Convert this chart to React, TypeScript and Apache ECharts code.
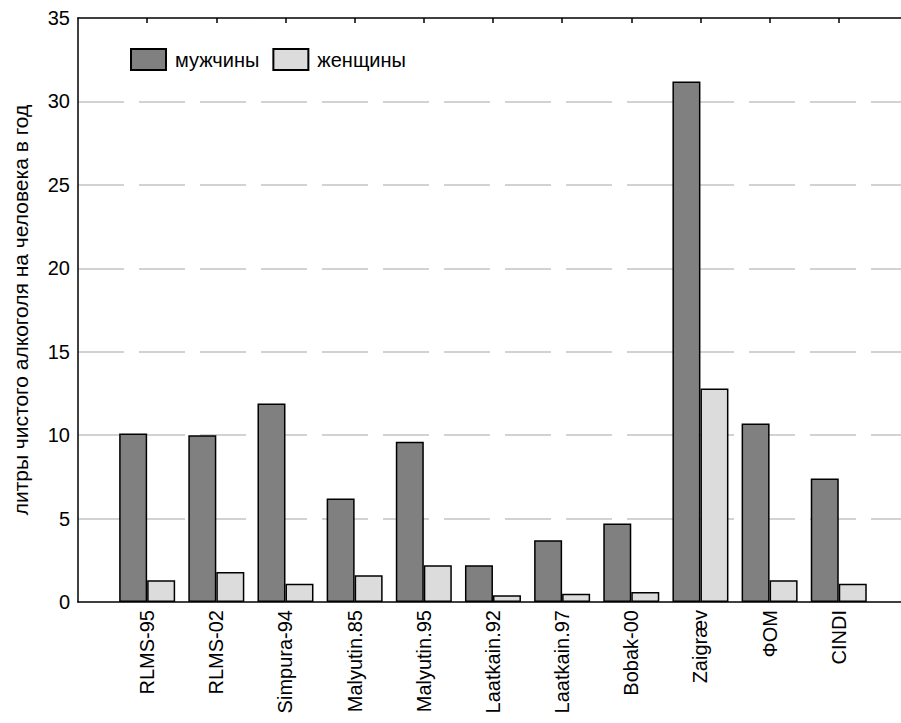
import React, { useEffect, useRef } from 'react';
import * as echarts from 'echarts';

// Annual pure-alcohol consumption per person, by survey
const categories = [
  'RLMS-95',
  'RLMS-02',
  'Simpura-94',
  'Malyutin.85',
  'Malyutin.95',
  'Laatkain.92',
  'Laatkain.97',
  'Bobak-00',
  'Zaigræv',
  'ФОМ',
  'CINDI',
];
const men = [10.1, 10.0, 11.9, 6.2, 9.6, 2.2, 3.7, 4.7, 31.2, 10.7, 7.4];
const women = [1.3, 1.8, 1.1, 1.6, 2.2, 0.4, 0.5, 0.6, 12.8, 1.3, 1.1];
const seriesNames = ['мужчины', 'женщины'];
const yAxisTitle = 'литры чистого алкоголя на человека в год';
const yMin = 0;
const yMax = 35;
const yStep = 5;

const FONT = '"Liberation Sans", Arial, Helvetica, sans-serif';

export default function App() {
  const ref = useRef<HTMLDivElement>(null);

  useEffect(() => {
    if (!ref.current) return;
    const chart = echarts.init(ref.current, undefined, { renderer: 'svg' });
    const positions = categories.map((_, i) => i + 1);

    chart.setOption({
      animation: false,
      backgroundColor: '#ffffff',
      textStyle: { fontFamily: FONT, color: '#000' },
      grid: { left: 78, right: 0, top: 18, bottom: 121, containLabel: false },
      legend: {
        left: 130,
        top: 48,
        padding: 0,
        itemWidth: 35,
        itemHeight: 21,
        itemGap: 13,
        icon: 'rect',
        data: seriesNames,
        textStyle: { fontFamily: FONT, fontSize: 20, color: '#000', padding: [0, 0, 0, 4] },
      },
      xAxis: [
        {
          type: 'value',
          position: 'bottom',
          min: 0,
          max: 11.9,
          axisLine: { show: true, lineStyle: { color: '#000', width: 1.5 } },
          axisTick: { show: false },
          splitLine: { show: false },
          axisLabel: {
            customValues: positions,
            rotate: 90,
            margin: 8,
            fontSize: 20,
            fontFamily: FONT,
            color: '#000',
            formatter: (v: number) => categories[Math.round(v) - 1] ?? '',
          },
        },
        {
          type: 'value',
          position: 'top',
          min: 0,
          max: 11.9,
          axisLine: { show: true, lineStyle: { color: '#000', width: 1.5 } },
          axisTick: {
            show: true,
            inside: true,
            length: 5,
            customValues: positions,
            lineStyle: { color: '#000', width: 1.5 },
          },
          axisLabel: { show: false },
          splitLine: { show: false },
        },
      ],
      yAxis: {
        type: 'value',
        min: yMin,
        max: yMax,
        interval: yStep,
        name: yAxisTitle,
        nameLocation: 'middle',
        nameGap: 47,
        nameTextStyle: { fontSize: 21, fontFamily: FONT, color: '#000' },
        axisLine: { show: true, lineStyle: { color: '#000', width: 1.5 } },
        axisTick: { show: false },
        axisLabel: { margin: 8, fontSize: 20, fontFamily: FONT, color: '#000' },
        splitLine: {
          show: true,
          showMinLine: false,
          showMaxLine: false,
          lineStyle: { color: '#c4c4c4', width: 1.5, type: [46, 15] },
        },
      },
      series: [
        {
          name: seriesNames[0],
          type: 'bar',
          xAxisIndex: 0,
          barWidth: 28,
          barGap: '0%',
          data: men.map((v, i) => [positions[i], v]),
          itemStyle: { color: '#808080', borderColor: '#000', borderWidth: 1.5 },
        },
        {
          name: seriesNames[1],
          type: 'bar',
          xAxisIndex: 0,
          barWidth: 28,
          barGap: '0%',
          data: women.map((v, i) => [positions[i], v]),
          itemStyle: { color: '#dcdcdc', borderColor: '#000', borderWidth: 1.5 },
        },
      ],
    });

    return () => chart.dispose();
  }, []);

  return (
    <div
      ref={ref}
      style={{ position: 'fixed', left: 0, top: 0, width: 901, height: 723, background: '#fff' }}
    />
  );
}
